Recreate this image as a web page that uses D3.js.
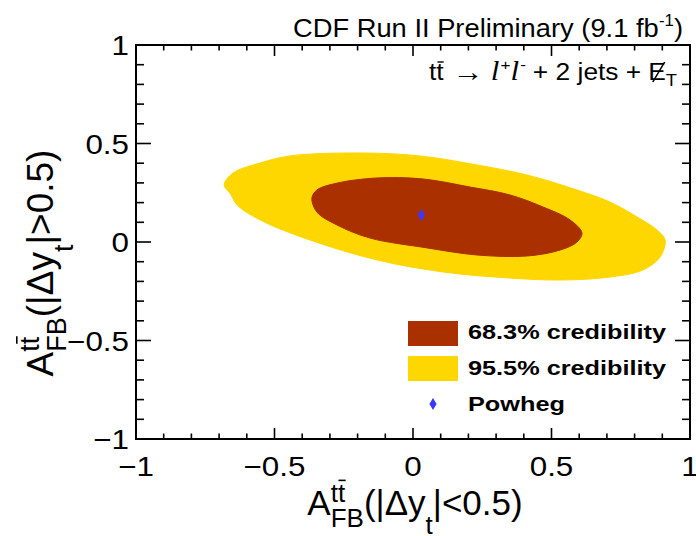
<!DOCTYPE html>
<html>
<head>
<meta charset="utf-8">
<script src="https://cdn.jsdelivr.net/npm/d3@7"></script>
<style>
  html, body { margin: 0; padding: 0; background: #fff; }
  svg { display: block; }
</style>
</head>
<body>
<svg id="chart" width="696" height="536"></svg>
<script>
// Credibility regions in the (A_FB(|Δy|<0.5), A_FB(|Δy|>0.5)) plane
const region955 = [
  [-0.682, 0.289], [-0.650, 0.350], [-0.552, 0.401], [-0.444, 0.437],
  [-0.191, 0.452], [0.025, 0.437], [0.231, 0.391], [0.412, 0.340],
  [0.592, 0.264], [0.711, 0.203], [0.809, 0.127], [0.881, 0.061],
  [0.910, 0.010], [0.892, -0.076], [0.830, -0.142], [0.711, -0.178],
  [0.531, -0.193], [0.350, -0.183], [0.108, -0.152], [-0.130, -0.091],
  [-0.372, 0.010], [-0.552, 0.112], [-0.635, 0.188], [-0.661, 0.249]
];
const region683 = [
  [-0.365, 0.223], [-0.347, 0.264], [-0.274, 0.299], [-0.130, 0.325],
  [0.036, 0.320], [0.206, 0.279], [0.350, 0.239], [0.469, 0.178],
  [0.567, 0.112], [0.610, 0.046], [0.592, 0.000], [0.531, -0.041],
  [0.412, -0.071], [0.231, -0.066], [0.051, -0.030], [-0.155, 0.020],
  [-0.274, 0.086], [-0.347, 0.152]
];
const powheg = [0.03, 0.137];

const xMajorTicks = [-1, -0.5, 0, 0.5, 1];
const yMajorTicks = [-1, -0.5, 0, 0.5, 1];
const xTickLabels = ["\u22121", "\u22120.5", "0", "0.5", "1"];
const yTickLabels = ["\u22121", "\u22120.5", "0", "0.5", "1"];
const legendLabels = ["68.3% credibility", "95.5% credibility", "Powheg"];
const legendWidths = [198, 198, 97];

const SANS = "'Liberation Sans', Arial, Helvetica, sans-serif";
const SERIF = "'Liberation Serif', 'Times New Roman', serif";
const RED = "#aa3000", GOLD = "#ffd700", BLUE = "#3838ff";

const svg = d3.select("#chart");
const frame = { left: 136, right: 690, top: 45, bottom: 439 };
const x = d3.scaleLinear().domain([-1, 1]).range([frame.left, frame.right]);
const y = d3.scaleLinear().domain([-1, 1]).range([frame.bottom, frame.top]);

// regions
const area = d3.line().x(d => x(d[0])).y(d => y(d[1])).curve(d3.curveCatmullRomClosed.alpha(0.5));
svg.append("path").attr("d", area(region955)).attr("fill", GOLD).attr("stroke", GOLD).attr("stroke-width", 1);
svg.append("path").attr("d", area(region683)).attr("fill", RED).attr("stroke", RED).attr("stroke-width", 1);

// Powheg point: a tall diamond
function diamond(cx, cy) {
  return `M${cx},${cy - 6}L${cx + 3.6},${cy}L${cx},${cy + 6}L${cx - 3.6},${cy}Z`;
}
svg.append("path").attr("d", diamond(x(powheg[0]), y(powheg[1]))).attr("fill", BLUE);

// axes: ticks on all four sides
const minor = d3.range(-1, 1.0001, 0.1).map(v => Math.round(v * 10) / 10);
const axG = svg.append("g").attr("stroke", "#000").attr("stroke-width", 1.6);
const isMajor = v => Math.abs(v * 2 - Math.round(v * 2)) < 1e-6;
minor.forEach(v => {
  const lx = isMajor(v) ? 11 : 5.5;
  const ly = isMajor(v) ? 15 : 8;
  axG.append("line").attr("x1", x(v)).attr("x2", x(v)).attr("y1", frame.bottom).attr("y2", frame.bottom - lx);
  axG.append("line").attr("x1", x(v)).attr("x2", x(v)).attr("y1", frame.top).attr("y2", frame.top + lx);
  axG.append("line").attr("y1", y(v)).attr("y2", y(v)).attr("x1", frame.left).attr("x2", frame.left + ly);
  axG.append("line").attr("y1", y(v)).attr("y2", y(v)).attr("x1", frame.right).attr("x2", frame.right - ly);
});
svg.append("rect").attr("x", frame.left).attr("y", frame.top)
  .attr("width", frame.right - frame.left).attr("height", frame.bottom - frame.top)
  .attr("fill", "none").attr("stroke", "#000").attr("stroke-width", 2);

// tick labels (slightly wide glyphs)
const TICK_FS = 28, WIDEN = 1.12;
xMajorTicks.forEach((v, i) => {
  svg.append("text").attr("transform", `translate(${x(v)},476) scale(${WIDEN},1)`)
    .attr("text-anchor", "middle")
    .attr("font-family", SANS).attr("font-size", TICK_FS).text(xTickLabels[i]);
});
yMajorTicks.forEach((v, i) => {
  svg.append("text").attr("transform", `translate(129,${y(v) + 10}) scale(${WIDEN},1)`)
    .attr("text-anchor", "end")
    .attr("font-family", SANS).attr("font-size", TICK_FS).text(yTickLabels[i]);
});

// sequential text layout helper
function layout(g, segs) {
  let cx = 0, pending = 0;
  const out = [];
  segs.forEach(s => {
    const t = g.append("text").attr("x", cx).attr("y", s.dy || 0)
      .attr("font-family", s.family || SANS).attr("font-size", s.size)
      .attr("font-style", s.style || "normal").attr("font-weight", s.weight || "normal")
      .attr("fill", "#000").text(s.text);
    const w = t.node().getComputedTextLength();
    out.push({ node: t, x: cx, w, s });
    if (s.stack) { pending = w; }
    else { cx += Math.max(w, pending) + (s.gap || 0); pending = 0; }
  });
  return { width: cx, out };
}

function axisTitle(g, M, S, rel) {
  const parts = [
    { text: "A", size: M },
    { text: "t", size: S, dy: -0.38 * M, stack: true },
    { text: "FB", size: S, dy: 0.34 * M },
    { text: "(|\u0394y", size: M },
    { text: "t", size: S, dy: 0.55 * M },
    { text: "|" + rel + "0.5)", size: M }
  ];
  const res = layout(g, parts);
  // superscript tt̄: a second t with its bar after the first
  const first = res.out[1];
  const t2 = g.append("text").attr("x", first.x + first.w).attr("y", -0.38 * M)
    .attr("font-family", SANS).attr("font-size", S).text("t");
  const w2 = t2.node().getComputedTextLength();
  g.append("line").attr("x1", first.x + first.w + 0.5).attr("x2", first.x + first.w + w2 + 0.5)
    .attr("y1", -0.38 * M - 0.82 * S).attr("y2", -0.38 * M - 0.82 * S)
    .attr("stroke", "#000").attr("stroke-width", 1.6);
  const supW = first.w + w2;
  const subW = res.out[2].w;
  const extra = Math.max(0, supW - subW);
  res.out.slice(3).forEach(o => o.node.attr("x", o.x + extra));
  return res.width + extra;
}

// x axis title
const xt = svg.append("g");
const xw = axisTitle(xt, 35, 26, "<");
xt.attr("transform", `translate(${415 - xw / 2},515)`);

// y axis title (rotated)
const yt = svg.append("g");
const yw = axisTitle(yt, 37, 27, ">");
yt.attr("transform", `translate(53,${263 + yw / 2}) rotate(-90)`);

// header
{
  const hg = svg.append("g");
  const h = layout(hg, [
    { text: "CDF Run II Preliminary (9.1 fb", size: 26 },
    { text: "-1", size: 16, dy: -11 },
    { text: ")", size: 26 }
  ]);
  hg.attr("transform", `translate(293,37) scale(${390 / h.width},1)`);
}

// channel label
{
  const ch = svg.append("g");
  const FS = 23;
  const chRes = layout(ch, [
    { text: "tt", size: FS, gap: 8 },
    { text: "\u2192", size: FS + 4, dy: 1, gap: 6 },
    { text: "l", size: FS + 4, family: SERIF, style: "italic", gap: 1 },
    { text: "+", size: 15, dy: -10 },
    { text: "l", size: FS + 4, family: SERIF, style: "italic", gap: 1 },
    { text: "-", size: 15, dy: -10, gap: 6 },
    { text: "+ 2 jets +", size: FS, gap: 6 },
    { text: "E", size: FS },
    { text: "T", size: 16, dy: 6 }
  ]);
  const tt = chRes.out[0];
  const tW = tt.w / 2;
  ch.append("line").attr("x1", tt.x + tW + 1).attr("x2", tt.x + tW * 2).attr("y1", -18).attr("y2", -18)
    .attr("stroke", "#000").attr("stroke-width", 1.4);
  const e = chRes.out[7];
  ch.append("line").attr("x1", e.x + 4).attr("x2", e.x + e.w - 1).attr("y1", 2).attr("y2", -18)
    .attr("stroke", "#000").attr("stroke-width", 1.4);
  const target = 677 - 429;
  ch.attr("transform", `translate(429,80) scale(${target / chRes.width},1)`);
}

// legend
const legend = svg.append("g");
const LX = 408, LW = 50, LH = 25;
legend.append("rect").attr("x", LX).attr("y", 321).attr("width", LW).attr("height", LH).attr("fill", RED);
legend.append("rect").attr("x", LX).attr("y", 356).attr("width", LW).attr("height", LH).attr("fill", GOLD);
legend.append("path").attr("d", diamond(LX + LW / 2, 404)).attr("fill", BLUE);
[339, 375, 411].forEach((by, i) => {
  legend.append("text").attr("x", 468).attr("y", by)
    .attr("font-family", SANS).attr("font-weight", "bold").attr("font-size", 21)
    .attr("textLength", legendWidths[i]).attr("lengthAdjust", "spacingAndGlyphs")
    .text(legendLabels[i]);
});
</script>
</body>
</html>
